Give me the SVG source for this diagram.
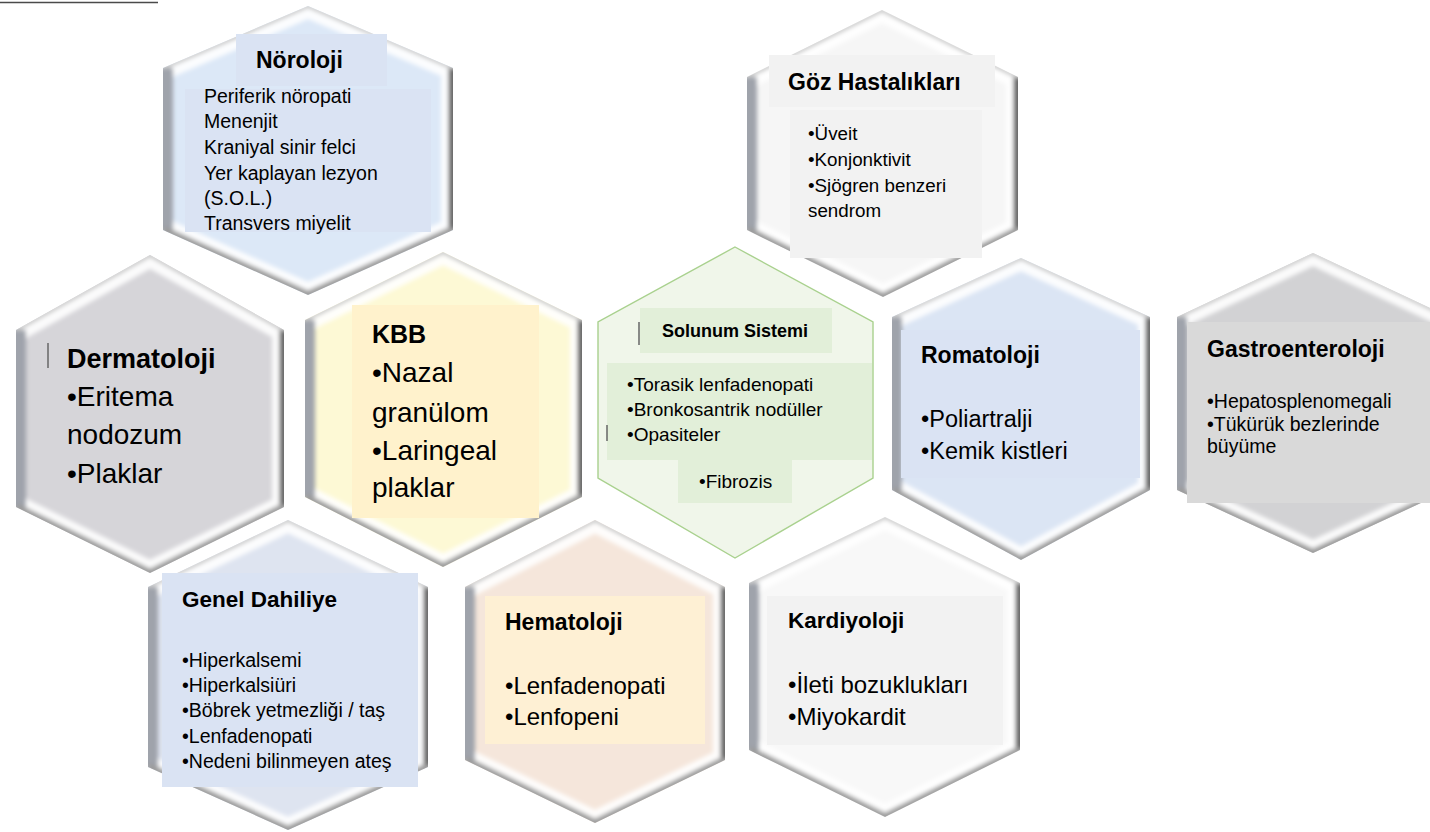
<svg xmlns="http://www.w3.org/2000/svg" xmlns:xlink="http://www.w3.org/1999/xlink" width="1430" height="832" viewBox="0 0 1430 832">
<style>
.t{font-family:"Liberation Sans",Arial,sans-serif;fill:#000}
.b{font-weight:bold}
.bw{fill:none;stroke:#ffffff;stroke-width:24;stroke-linejoin:round;opacity:.9}
.bl{fill:none;stroke:#9fa3ab;stroke-width:20}
.br{fill:none;stroke:#666666;stroke-width:9}
.bb{fill:none;stroke:#9c9c9c;stroke-width:8;stroke-linejoin:round}
.bt{fill:none;stroke:#c2c2c2;stroke-width:4;stroke-linejoin:round}
.art{stroke:#666;stroke-width:1.5}
</style>
<defs>
<filter id="soft" x="-5%" y="-5%" width="110%" height="110%"><feGaussianBlur stdDeviation="2.2"/></filter>
<polygon id="h1" points="308,6 453,68 453,230 308,295 163,230 163,68"/>
<polygon id="h2" points="882,10 1018,77 1018,230 883,297 747,230 747,77"/>
<polygon id="h3" points="150,255 284,330 284,507 150,573 16,507 16,330"/>
<polygon id="h4" points="443,252 582,320 582,497 443,567 305,497 305,320"/>
<polygon id="h5" points="735,247 873,322 873,478 735,558 598,478 598,322"/>
<polygon id="h6" points="1021,258 1150,317 1150,490 1021,560 892,490 892,317"/>
<polygon id="h7" points="1313,253 1449,317 1449,490 1313,553 1177,490 1177,317"/>
<polygon id="h8" points="288,520 428,587 428,767 288,830 148,767 148,587"/>
<polygon id="h9" points="595,520 725,587 725,760 595,823 465,760 465,587"/>
<polygon id="h10" points="885,517 1020,583 1020,750 885,817 749,750 749,583"/>
<clipPath id="c1"><use href="#h1"/></clipPath>
<clipPath id="c2"><use href="#h2"/></clipPath>
<clipPath id="c3"><use href="#h3"/></clipPath>
<clipPath id="c4"><use href="#h4"/></clipPath>
<clipPath id="c6"><use href="#h6"/></clipPath>
<clipPath id="c7"><use href="#h7"/></clipPath>
<clipPath id="c8"><use href="#h8"/></clipPath>
<clipPath id="c9"><use href="#h9"/></clipPath>
<clipPath id="c10"><use href="#h10"/></clipPath>
</defs>
<rect width="1430" height="832" fill="#ffffff"/>
<line x1="0" y1="2.5" x2="158" y2="2.5" stroke="#4a4a4a" stroke-width="1.5"/>
<g id="connectors"></g>

<g id="noroloji">
<use href="#h1" fill="#dce8f7"/>
<g clip-path="url(#c1)"><g filter="url(#soft)">
<polyline class="bw" points="163,230 308,295 453,230 453,68 308,6 163,68"/>
<polyline class="bl" points="163,68 163,230"/>
<polyline class="br" points="453,68 453,230"/>
<polyline class="bb" points="163,230 308,295 453,230"/>
<polyline class="bt" points="163,68 308,6 453,68"/>
</g></g>
<rect x="236" y="34" width="151" height="52" fill="#dae3f3"/>
<rect x="185" y="89" width="246" height="143" fill="#dae3f3"/>
<text class="t b" x="256" y="68" font-size="23">Nöroloji</text>
<g class="t" font-size="19.5">
<text x="204" y="103">Periferik nöropati</text>
<text x="204" y="128">Menenjit</text>
<text x="204" y="154">Kraniyal sinir felci</text>
<text x="204" y="180">Yer kaplayan lezyon</text>
<text x="204" y="205">(S.O.L.)</text>
<text x="204" y="230">Transvers miyelit</text>
</g>
</g>

<g id="goz">
<use href="#h2" fill="#f6f6f6"/>
<g clip-path="url(#c2)"><g filter="url(#soft)">
<polyline class="bw" points="747,230 883,297 1018,230 1018,77 882,10 747,77"/>
<polyline class="bl" points="747,77 747,230"/>
<polyline class="br" points="1018,77 1018,230"/>
<polyline class="bb" points="747,230 883,297 1018,230"/>
<polyline class="bt" points="747,77 882,10 1018,77"/>
</g></g>
<rect x="769" y="55" width="226" height="52" fill="#f2f2f2"/>
<rect x="790" y="110" width="192" height="148" fill="#f2f2f2"/>
<text class="t b" x="788" y="90" font-size="23">Göz Hastalıkları</text>
<g class="t" font-size="18.8">
<text x="808" y="140">•Üveit</text>
<text x="808" y="166">•Konjonktivit</text>
<text x="808" y="192">•Sjögren benzeri</text>
<text x="808" y="217">sendrom</text>
</g>
</g>

<g id="dermatoloji">
<use href="#h3" fill="#d6d5d9"/>
<g clip-path="url(#c3)"><g filter="url(#soft)">
<polyline class="bw" points="16,507 150,573 284,507 284,330 150,255 16,330"/>
<polyline class="bl" points="16,330 16,507"/>
<polyline class="br" points="284,330 284,507"/>
<polyline class="bb" points="16,507 150,573 284,507"/>
<polyline class="bt" points="16,330 150,255 284,330"/>
</g></g>
<line class="art" x1="48" y1="343" x2="48" y2="368"/>
<text class="t b" x="67" y="368" font-size="27">Dermatoloji</text>
<g class="t" font-size="28">
<text x="67" y="406">•Eritema</text>
<text x="67" y="444">nodozum</text>
<text x="67" y="483">•Plaklar</text>
</g>
</g>

<g id="kbb">
<use href="#h4" fill="#fdf9d5"/>
<g clip-path="url(#c4)"><g filter="url(#soft)">
<polyline class="bw" points="305,497 443,567 582,497 582,320 443,252 305,320"/>
<polyline class="bl" points="305,320 305,497"/>
<polyline class="br" points="582,320 582,497"/>
<polyline class="bb" points="305,497 443,567 582,497"/>
<polyline class="bt" points="305,320 443,252 582,320"/>
</g></g>
<rect x="352" y="305" width="187" height="213" fill="#fff2cc"/>
<text class="t b" x="372" y="343" font-size="25">KBB</text>
<g class="t" font-size="28">
<text x="372" y="382">•Nazal</text>
<text x="372" y="422">granülom</text>
<text x="372" y="460">•Laringeal</text>
<text x="372" y="497">plaklar</text>
</g>
</g>

<g id="solunum">
<use href="#h5" fill="#f0f6ea" stroke="#a9d18e" stroke-width="1.4"/>
<rect x="640" y="308" width="192" height="45" fill="#e2efd9"/>
<rect x="607" y="363" width="265" height="97" fill="#e2efd9"/>
<rect x="678" y="460" width="114" height="43" fill="#e2efd9"/>
<line class="art" x1="639" y1="322" x2="639" y2="345"/>
<line class="art" x1="607" y1="425" x2="607" y2="441"/>
<text class="t b" x="662" y="337" font-size="18">Solunum Sistemi</text>
<g class="t" font-size="19">
<text x="627" y="391">•Torasik lenfadenopati</text>
<text x="627" y="416">•Bronkosantrik nodüller</text>
<text x="627" y="441">•Opasiteler</text>
<text x="699" y="488">•Fibrozis</text>
</g>
</g>

<g id="romatoloji">
<use href="#h6" fill="#dbe5f4"/>
<g clip-path="url(#c6)"><g filter="url(#soft)">
<polyline class="bw" points="892,490 1021,560 1150,490 1150,317 1021,258 892,317"/>
<polyline class="bl" points="892,317 892,490"/>
<polyline class="br" points="1150,317 1150,490"/>
<polyline class="bb" points="892,490 1021,560 1150,490"/>
<polyline class="bt" points="892,317 1021,258 1150,317"/>
</g></g>
<rect x="901" y="330" width="239" height="148" fill="#dae3f3"/>
<text class="t b" x="921" y="363" font-size="23">Romatoloji</text>
<g class="t" font-size="23.5">
<text x="921" y="427">•Poliartralji</text>
<text x="921" y="459">•Kemik kistleri</text>
</g>
</g>

<g id="gastroenteroloji">
<use href="#h7" fill="#d2d2d4"/>
<g clip-path="url(#c7)"><g filter="url(#soft)">
<polyline class="bw" points="1177,490 1313,553 1449,490 1449,317 1313,253 1177,317"/>
<polyline class="bl" points="1177,317 1177,490"/>
<polyline class="bb" points="1177,490 1313,553 1449,490"/>
<polyline class="bt" points="1177,317 1313,253 1449,317"/>
</g></g>
<rect x="1187" y="322" width="243" height="181" fill="#d9d9d9"/>
<text class="t b" x="1207" y="357" font-size="23">Gastroenteroloji</text>
<g class="t" font-size="19.5">
<text x="1207" y="408">•Hepatosplenomegali</text>
<text x="1207" y="431">•Tükürük bezlerinde</text>
<text x="1207" y="453">büyüme</text>
</g>
</g>

<g id="genel-dahiliye">
<use href="#h8" fill="#dee4f0"/>
<g clip-path="url(#c8)"><g filter="url(#soft)">
<polyline class="bw" points="148,767 288,830 428,767 428,587 288,520 148,587"/>
<polyline class="bl" points="148,587 148,767"/>
<polyline class="br" points="428,587 428,767"/>
<polyline class="bb" points="148,767 288,830 428,767"/>
<polyline class="bt" points="148,587 288,520 428,587"/>
</g></g>
<rect x="162" y="573" width="256" height="214" fill="#dae3f3"/>
<text class="t b" x="182" y="607" font-size="22.5">Genel Dahiliye</text>
<g class="t" font-size="19.5">
<text x="182" y="667">•Hiperkalsemi</text>
<text x="182" y="692">•Hiperkalsiüri</text>
<text x="182" y="717">•Böbrek yetmezliği / taş</text>
<text x="182" y="743">•Lenfadenopati</text>
<text x="182" y="768">•Nedeni bilinmeyen ateş</text>
</g>
</g>

<g id="hematoloji">
<use href="#h9" fill="#f5e6db"/>
<g clip-path="url(#c9)"><g filter="url(#soft)">
<polyline class="bw" points="465,760 595,823 725,760 725,587 595,520 465,587"/>
<polyline class="bl" points="465,587 465,760"/>
<polyline class="br" points="725,587 725,760"/>
<polyline class="bb" points="465,760 595,823 725,760"/>
<polyline class="bt" points="465,587 595,520 725,587"/>
</g></g>
<rect x="485" y="596" width="220" height="148" fill="#fef0d4"/>
<text class="t b" x="505" y="630" font-size="23">Hematoloji</text>
<g class="t" font-size="24">
<text x="505" y="694">•Lenfadenopati</text>
<text x="505" y="725">•Lenfopeni</text>
</g>
</g>

<g id="kardiyoloji">
<use href="#h10" fill="#f8f8f8"/>
<g clip-path="url(#c10)"><g filter="url(#soft)">
<polyline class="bw" points="749,750 885,817 1020,750 1020,583 885,517 749,583"/>
<polyline class="bl" points="749,583 749,750"/>
<polyline class="br" points="1020,583 1020,750"/>
<polyline class="bb" points="749,750 885,817 1020,750"/>
<polyline class="bt" points="749,583 885,517 1020,583"/>
</g></g>
<rect x="767" y="596" width="236" height="149" fill="#f2f2f2"/>
<text class="t b" x="788" y="628" font-size="22.5">Kardiyoloji</text>
<g class="t" font-size="24">
<text x="788" y="693">•İleti bozuklukları</text>
<text x="788" y="725">•Miyokardit</text>
</g>
</g>
</svg>
